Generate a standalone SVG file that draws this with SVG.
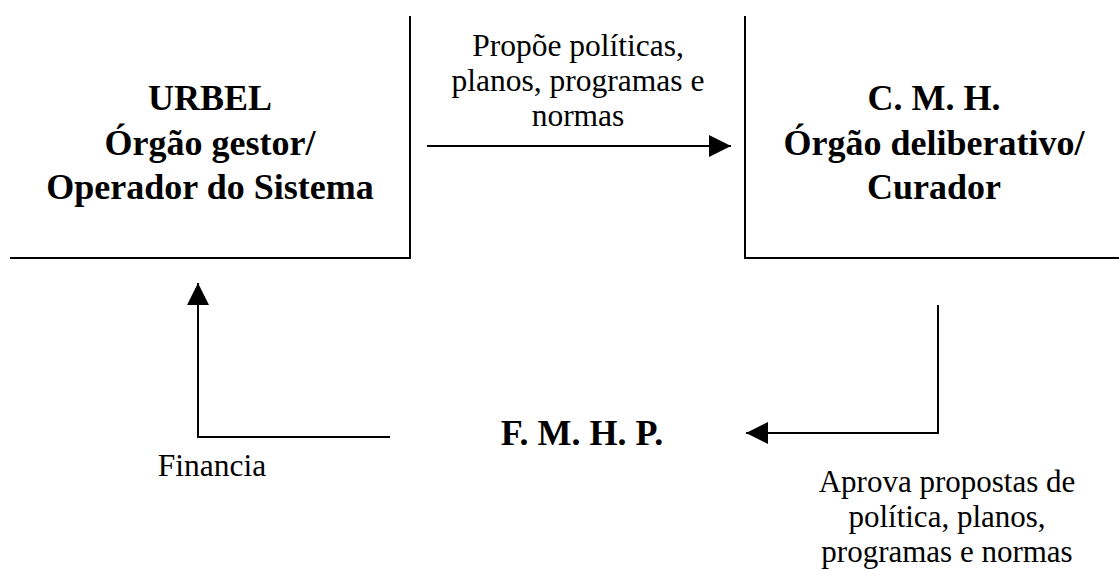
<svg xmlns="http://www.w3.org/2000/svg" width="1119" height="570" viewBox="0 0 1119 570">
<style>
.ln{stroke:#000;stroke-width:2;fill:none}
.b{font-family:"Liberation Serif","Times New Roman",serif;font-weight:bold;font-size:36px;fill:#000;text-anchor:middle}
.r{font-family:"Liberation Serif","Times New Roman",serif;font-size:31.5px;fill:#000;text-anchor:middle}
.s{font-size:31px}
</style>
<defs>
<marker id="ah" viewBox="0 0 22 22" refX="22" refY="11" markerWidth="22" markerHeight="22" markerUnits="userSpaceOnUse" orient="auto">
<path d="M0,0 L22,11 L0,22 Z" fill="#000"/>
</marker>
</defs>
<g id="urbel">
<path class="ln" d="M410,16 V258 H10"/>
<text class="b" x="210" y="110">URBEL</text>
<text class="b" x="210" y="155">Órgão gestor/</text>
<text class="b" x="210" y="199">Operador do Sistema</text>
</g>
<g id="cmh">
<path class="ln" d="M745,16 V258 H1119"/>
<text class="b" x="934" y="110">C. M. H.</text>
<text class="b" x="934" y="155">Órgão deliberativo/</text>
<text class="b" x="934" y="199">Curador</text>
</g>
<g id="fmhp">
<text class="b" x="582" y="445">F. M. H. P.</text>
</g>
<g id="connectors">
<path class="ln" d="M427,146 H731" marker-end="url(#ah)"/>
<path class="ln" d="M938,305 V433 H746" marker-end="url(#ah)"/>
<path class="ln" d="M390,437 H198 V283" marker-end="url(#ah)"/>
</g>
<g id="labels">
<text class="r" x="578" y="56">Propõe políticas,</text>
<text class="r" x="578" y="91">planos, programas e</text>
<text class="r" x="578" y="126">normas</text>
<text class="r" x="212" y="476">Financia</text>
<text class="r s" x="947" y="492">Aprova propostas de</text>
<text class="r s" x="947" y="527">política, planos,</text>
<text class="r s" x="947" y="562">programas e normas</text>
</g>
</svg>
